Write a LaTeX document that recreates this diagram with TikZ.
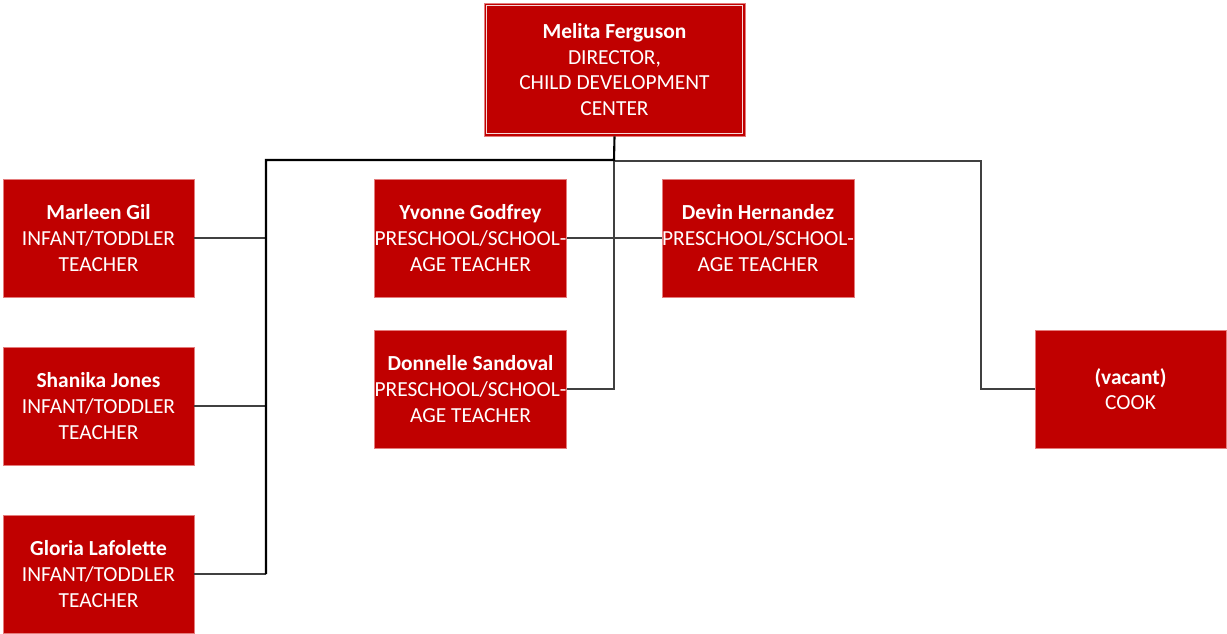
\documentclass[tikz,border=0pt]{standalone}
\usepackage{fontspec}
\setmainfont{Carlito}
\usepackage{tikz}
\usetikzlibrary{shapes,arrows,positioning}
\usepackage{xcolor}
\definecolor{boxred}{HTML}{C00000}
\definecolor{boxedge}{HTML}{E47C7C}
\definecolor{linegray}{HTML}{404040}

\begin{document}
\begin{tikzpicture}[x=0.02cm, y=-0.02cm]
      \tikzstyle{staff} = [rectangle, draw=boxedge, line width=0.5pt, fill=boxred, text=white, align=center, inner sep=0pt, minimum width=191*0.02cm, minimum height=118*0.02cm, font=\fontsize{12.2}{14.6}\selectfont]
      \tikzstyle{head} = [staff, minimum width=261*0.02cm, minimum height=133*0.02cm]
      \tikzstyle{trunk} = [draw=black, line width=1.2pt]
      \tikzstyle{link} = [draw=linegray, line width=0.9pt]

      \useasboundingbox (0,0) rectangle (1227,633);

      \node[head] (dir) at (614.5,69.5) {\textbf{Melita Ferguson}\\DIRECTOR,\\CHILD DEVELOPMENT\\CENTER};
      \draw[white!85!boxred, line width=0.5pt] ([shift={(3,3)}]dir.north west) rectangle ([shift={(-3,-3)}]dir.south east);

      \node[staff] (t1) at (98.5,238) {\textbf{Marleen Gil}\\INFANT/TODDLER\\TEACHER};
      \node[staff] (t2) at (98.5,406) {\textbf{Shanika Jones}\\INFANT/TODDLER\\TEACHER};
      \node[staff] (t3) at (98.5,574) {\textbf{Gloria Lafolette}\\INFANT/TODDLER\\TEACHER};

      \node[staff] (p1) at (470.5,238) {\textbf{Yvonne Godfrey}\\PRESCHOOL/SCHOOL-\\AGE TEACHER};
      \node[staff] (p2) at (758,238) {\textbf{Devin Hernandez}\\PRESCHOOL/SCHOOL-\\AGE TEACHER};
      \node[staff] (p3) at (470.5,389) {\textbf{Donnelle Sandoval}\\PRESCHOOL/SCHOOL-\\AGE TEACHER};

      \node[staff] (cook) at (1130.5,389) {\textbf{(vacant)}\\COOK};

      % connectors
      \coordinate (hub) at (614,160);
      \coordinate (lhub) at (266,160);
      \coordinate (rhub) at (981,161);

      \draw[link] (hub) |- (p3.east);
      \draw[link] (hub |- rhub) -- (rhub) |- (cook.west);
      \draw[link] (p1.east) -- (p2.west);
      \draw[link] (lhub |- t1.east) -- (t1.east);
      \draw[link] (lhub |- t2.east) -- (t2.east);
      \draw[link] (lhub |- t3.east) -- (t3.east);
      \draw[trunk] (dir.south) -- (hub) -- (lhub) -- (lhub |- t3.east);
    \end{tikzpicture}
\end{document}
